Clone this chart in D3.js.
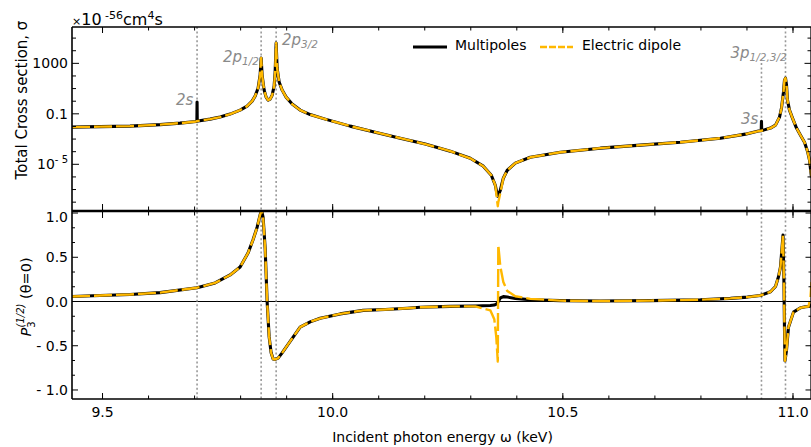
<!DOCTYPE html>
<html><head><meta charset="utf-8">
<script src="https://cdn.jsdelivr.net/npm/d3@7"></script>
<style>body{margin:0;background:#fff} text{font-family:"DejaVu Sans",sans-serif}</style>
</head><body><svg id="c" width="811" height="447"></svg>
<script>
// ---------- data ----------
const energyTop = [9.4337, 9.4946, 9.5598, 9.6250, 9.6685, 9.7033, 9.7050, 9.7054, 9.7058, 9.7076,
  9.7337, 9.7554, 9.7772, 9.7989, 9.8141, 9.8250, 9.8315, 9.8380, 9.8424, 9.8446,
  9.8467, 9.8511, 9.8554, 9.8598, 9.8641, 9.8685, 9.8728, 9.8750, 9.8772, 9.8793,
  9.8837, 9.8902, 9.8989, 9.9120, 9.9293, 9.9511, 9.9837, 10.038, 10.0924, 10.1467,
  10.201, 10.2554, 10.2989, 10.3272, 10.3446, 10.3533, 10.3576, 10.3587, 10.3598, 10.3641,
  10.3707, 10.3793, 10.3967, 10.4293, 10.4946, 10.5815, 10.6685, 10.7554, 10.8424, 10.8967,
  10.925, 10.9310, 10.9315, 10.9320, 10.9359, 10.9511, 10.962, 10.9707, 10.9750, 10.9793,
  10.9815, 10.9837, 10.9859, 10.9880, 10.9924, 10.9989, 11.0076, 11.0163, 11.025, 11.0315, 11.0359, 11.0402];
const sigmaMultipoles = [8.8e-3, 9.6e-3, 1.06e-2, 1.39e-2, 1.83e-2, 2.49e-2, 2.57e-2, 0.85, 2.63e-2, 2.74e-2,
  3.8e-2, 5.5e-2, 9.5e-2, 0.197, 0.408, 1.02, 2.54, 11, 117, 2630,
  117, 7.6, 2.11, 1.22, 1.47, 3.0, 15.8, 204, 40700, 427,
  33, 7.6, 2.11, 0.59, 0.197, 8.7e-2, 3.8e-2, 1.06e-2, 3.5e-3, 1.17e-3,
  4.0e-4, 1.1e-4, 3.0e-5, 7.1e-6, 1.35e-6, 2.2e-7, 3.5e-8, 2.95e-8, 3.5e-8, 8.7e-8,
  7.9e-7, 3.4e-6, 1.23e-5, 3.6e-5, 9.1e-5, 1.9e-4, 3.3e-4, 5.6e-4, 1.17e-3, 2.45e-3,
  4.3e-3, 4.6e-3, 2.6e-2, 4.7e-3, 5.1e-3, 7.4e-3, 1.26e-2, 5.5e-2, 0.28, 5.2,
  47, 68, 19, 1.23, 0.195, 4.6e-2, 7.4e-3, 2.0e-3, 5.6e-4, 1.1e-4, 2.1e-5, 9.5e-7];
const sigmaDipole = [8.8e-3, 9.6e-3, 1.06e-2, 1.39e-2, 1.83e-2, 2.49e-2, 2.57e-2, 2.6e-2, 2.63e-2, 2.74e-2,
  3.8e-2, 5.5e-2, 9.5e-2, 0.197, 0.408, 1.02, 2.54, 11, 117, 2630,
  117, 7.6, 2.11, 1.22, 1.47, 3.0, 15.8, 204, 40700, 427,
  33, 7.6, 2.11, 0.59, 0.197, 8.7e-2, 3.8e-2, 1.06e-2, 3.5e-3, 1.17e-3,
  4.0e-4, 1.1e-4, 3.0e-5, 7.1e-6, 1.35e-6, 2.2e-7, 1.0e-8, 4.8e-9, 1.0e-8, 5.0e-8,
  7.9e-7, 3.4e-6, 1.23e-5, 3.6e-5, 9.1e-5, 1.9e-4, 3.3e-4, 5.6e-4, 1.17e-3, 2.45e-3,
  4.3e-3, 4.6e-3, 4.6e-3, 4.7e-3, 5.1e-3, 7.4e-3, 1.26e-2, 5.5e-2, 0.28, 5.2,
  47, 68, 19, 1.23, 0.195, 4.6e-2, 7.4e-3, 2.0e-3, 5.6e-4, 1.1e-4, 2.1e-5, 9.5e-7];

const energyPol = [9.4337, 9.4946, 9.5598, 9.6250, 9.7054, 9.7446, 9.7772, 9.7989, 9.8163, 9.8272,
  9.8359, 9.8424, 9.8457, 9.8489, 9.8533, 9.8576, 9.8620, 9.8663, 9.8707, 9.8750,
  9.8815, 9.8902, 9.9076, 9.9293, 9.9511, 9.9728, 10.0163, 10.0663, 10.1141, 10.1620,
  10.1902, 10.2554, 10.3098, 10.3424, 10.3511, 10.3554, 10.3587, 10.3598, 10.3641, 10.3707,
  10.3793, 10.3967, 10.4293, 10.4946, 10.5815, 10.6902, 10.7989, 10.8641, 10.9011, 10.9293,
  10.9511, 10.9620, 10.9685, 10.9728, 10.9761, 10.9783, 10.9804, 10.9815, 10.9826, 10.9859,
  10.9902, 11.0011, 11.0163, 11.0272, 11.0337, 11.0380, 11.0402];
const polMultipoles = [0.057, 0.068, 0.08, 0.10, 0.156, 0.21, 0.30, 0.39, 0.55, 0.70,
  0.84, 0.98, 1.03, 0.95, 0.6, 0.0, -0.4, -0.58, -0.65, -0.655,
  -0.64, -0.58, -0.45, -0.29, -0.23, -0.19, -0.14, -0.10, -0.09, -0.076,
  -0.065, -0.055, -0.05, -0.045, -0.04, -0.03, -0.01, 0.0, 0.04, 0.055,
  0.05, 0.035, 0.02, 0.01, 0.005, 0.01, 0.02, 0.035, 0.05, 0.068,
  0.11, 0.17, 0.28, 0.39, 0.6, 0.75, 0.2, -0.3, -0.67, -0.55,
  -0.29, -0.12, -0.07, -0.06, -0.057, -0.05, -0.03];
const polDipole = [0.057, 0.068, 0.08, 0.10, 0.156, 0.21, 0.30, 0.39, 0.55, 0.70,
  0.84, 0.98, 1.03, 0.95, 0.6, 0.0, -0.4, -0.58, -0.65, -0.655,
  -0.64, -0.58, -0.45, -0.29, -0.23, -0.19, -0.14, -0.10, -0.09, -0.076,
  -0.065, -0.055, -0.055, -0.1, -0.2, -0.4, -0.68, 0.64, 0.40, 0.22,
  0.12, 0.06, 0.03, 0.01, 0.005, 0.01, 0.02, 0.035, 0.05, 0.068,
  0.11, 0.17, 0.28, 0.39, 0.6, 0.75, 0.2, -0.3, -0.67, -0.55,
  -0.29, -0.12, -0.07, -0.06, -0.057, 0.05, 0.22];

const xMajorTicks = [9.5, 10.0, 10.5, 11.0];
const xTickLabels = ["9.5", "10.0", "10.5", "11.0"];
const xMinorTicks = [9.5, 9.6, 9.7, 9.8, 9.9, 10.0, 10.1, 10.2, 10.3, 10.4, 10.5, 10.6, 10.7, 10.8, 10.9, 11.0];
const sigmaDecades = [1e5, 1e4, 1e3, 1e2, 1e1, 1, 1e-1, 1e-2, 1e-3, 1e-4, 1e-5, 1e-6, 1e-7, 1e-8];
const sigmaLabelTicks = [1e3, 1e-1, 1e-5];
const polMajorTicks = [1.0, 0.5, 0.0, -0.5, -1.0];
const polTickLabels = ["1.0", "0.5", "0.0", "- 0.5", "- 1.0"];
const polMinorTicks = [0.8333, 0.6667, 0.3333, 0.1667, -0.1667, -0.3333, -0.6667, -0.8333];
const resonanceEnergies = [9.7054, 9.8446, 9.8772, 10.9315, 10.9837];
const seriesNames = ["Multipoles", "Electric dipole"];

// ---------- layout ----------
const svg = d3.select("#c");
const L = 72, R = 811.5, T1 = 27, B1 = 211, T2 = 211, B2 = 399;
const orange = "#FFB800";
const x = d3.scaleLinear().domain([9.4337, 11.0402]).range([L, R]);
const yS = d3.scaleLog().domain([Math.pow(10, -8.7), Math.pow(10, 5.88)]).range([B1, T1]);
const yP = d3.scaleLinear().domain([-1.102, 1.023]).range([B2, T2]);

const defs = svg.append("defs");
defs.append("clipPath").attr("id", "cp1").append("rect").attr("x", L).attr("y", T1).attr("width", R - L).attr("height", B1 - T1);
defs.append("clipPath").attr("id", "cp2").append("rect").attr("x", L).attr("y", T2).attr("width", R - L).attr("height", B2 - T2);

// zero line
svg.append("line").attr("x1", L).attr("x2", R).attr("y1", yP(0)).attr("y2", yP(0)).attr("stroke", "#000").attr("stroke-width", 1);

// resonance dotted lines
resonanceEnergies.forEach((e, i) => {
  svg.append("line").attr("x1", x(e)).attr("x2", x(e)).attr("y1", i === 3 ? 63 : T1).attr("y2", B2)
    .attr("stroke", "#999").attr("stroke-width", 1.6).attr("stroke-dasharray", "2,2.4");
});

// curves
const topM = energyTop.map((e, i) => [e, sigmaMultipoles[i]]);
const topD = energyTop.map((e, i) => [e, sigmaDipole[i]]);
const botM = energyPol.map((e, i) => [e, polMultipoles[i]]);
const botD = energyPol.map((e, i) => [e, polDipole[i]]);
const lineTop = d3.line().x(d => x(d[0])).y(d => yS(d[1]));
const lineBot = d3.line().x(d => x(d[0])).y(d => yP(d[1]));
const g1 = svg.append("g").attr("clip-path", "url(#cp1)");
const g2 = svg.append("g").attr("clip-path", "url(#cp2)");
function drawPair(g, dm, dd, gen) {
  g.append("path").attr("d", gen(dm)).attr("fill", "none").attr("stroke", "#000").attr("stroke-width", 3.1).attr("stroke-linejoin", "round");
  g.append("path").attr("d", gen(dd)).attr("fill", "none").attr("stroke", orange).attr("stroke-width", 2.4)
    .attr("stroke-dasharray", "18,4").attr("stroke-linejoin", "round");
}
drawPair(g1, topM, topD, lineTop);
drawPair(g2, botM, botD, lineBot);

// spines
const sp = (x1, y1, x2, y2, w) => svg.append("line").attr("x1", x1).attr("y1", y1).attr("x2", x2).attr("y2", y2).attr("stroke", "#000").attr("stroke-width", w);
sp(L, T1, R, T1, 1.3);
sp(L, B2, R, B2, 1.3);
sp(L, T1, L, B2, 1.6);
sp(R - 0.5, T1, R - 0.5, B2, 1.3);
sp(L, B1, R, B1, 2.6);

// x ticks
function xt(v, len) {
  const px = x(v);
  sp(px, T1, px, T1 + len, 1);
  sp(px, B1, px, B1 - len - 1, 1);
  sp(px, T2, px, T2 + len + 1, 1);
  sp(px, B2, px, B2 - len, 1);
}
xMinorTicks.forEach(v => xt(v, 3.5));
xMajorTicks.forEach(v => xt(v, 6));
xMajorTicks.forEach((v, i) => svg.append("text").attr("x", x(v)).attr("y", 416.5).attr("text-anchor", "middle").attr("font-size", 14).text(xTickLabels[i]));

// y ticks top
sigmaDecades.forEach(v => {
  const major = sigmaLabelTicks.includes(v);
  const len = major ? 7 : 4;
  sp(L, yS(v), L + len, yS(v), 1);
  sp(R, yS(v), R - len, yS(v), 1);
});
const lab1000 = svg.append("text").attr("x", 68).attr("y", yS(1e3) + 5).attr("text-anchor", "end").attr("font-size", 14).text("1000");
svg.append("text").attr("x", 68).attr("y", yS(1e-1) + 5).attr("text-anchor", "end").attr("font-size", 14).text("0.1");
const t5 = svg.append("text").attr("x", 68).attr("y", yS(1e-5) + 5).attr("text-anchor", "end").attr("font-size", 14);
t5.append("tspan").text("10");
t5.append("tspan").attr("font-size", 10).attr("dy", -6).text("- 5");

// y ticks bottom
polMajorTicks.forEach((v, i) => {
  sp(L, yP(v), L + 6, yP(v), 1);
  sp(R, yP(v), R - 6, yP(v), 1);
  const yy = Math.max(yP(v), 217);
  svg.append("text").attr("x", 68).attr("y", yy + 5).attr("text-anchor", "end").attr("font-size", 14).text(polTickLabels[i]);
});
polMinorTicks.forEach(v => {
  sp(L, yP(v), L + 3, yP(v), 1);
  sp(R, yP(v), R - 3, yP(v), 1);
});

// unit label
const u = svg.append("text").attr("x", 72).attr("y", 24.5).attr("font-size", 16);
u.append("tspan").attr("font-size", 11).text("×");
u.append("tspan").text("10");
u.append("tspan").attr("font-size", 11).attr("dy", -6).text(" -56");
u.append("tspan").attr("dy", 6).text("cm");
u.append("tspan").attr("font-size", 11).attr("dy", -6).text("4");
u.append("tspan").attr("dy", 6).text("s");

// axis titles
svg.append("text").attr("transform", "translate(27,100) rotate(-90)").attr("text-anchor", "middle").attr("font-size", 15).text("Total Cross section, σ");
const pl = svg.append("text").attr("transform", "translate(31,297) rotate(-90)").attr("text-anchor", "middle").attr("font-size", 14.5);
pl.append("tspan").attr("font-style", "italic").text("P");
pl.append("tspan").attr("font-size", 10).attr("dy", 4).text("3");
pl.append("tspan").attr("font-size", 10).attr("font-style", "italic").attr("dx", -6).attr("dy", -11).text("(1/2)");
pl.append("tspan").attr("dy", 7).text("  (θ=0)");
svg.append("text").attr("x", 442.5).attr("y", 442).attr("text-anchor", "middle").attr("font-size", 14).text("Incident photon energy ω (keV)");

// resonance labels
function resLabel(xp, yp, main, sub) {
  const t = svg.append("text").attr("x", xp).attr("y", yp).attr("font-size", 15).attr("font-style", "italic").attr("fill", "#8a8a8a");
  t.append("tspan").text(main);
  if (sub) t.append("tspan").attr("font-size", 10.5).attr("dy", 3).text(sub);
}
resLabel(176, 105, "2s");
resLabel(223, 62, "2p", "1/2");
resLabel(282, 45, "2p", "3/2");
resLabel(730.5, 57.5, "3p", "1/2,3/2");
resLabel(741, 124, "3s");

// legend
svg.append("line").attr("x1", 413).attr("x2", 447).attr("y1", 47).attr("y2", 47).attr("stroke", "#000").attr("stroke-width", 3);
svg.append("text").attr("x", 455).attr("y", 50).attr("font-size", 14).text(seriesNames[0]);
svg.append("line").attr("x1", 540).attr("x2", 573).attr("y1", 47).attr("y2", 47).attr("stroke", orange).attr("stroke-width", 2.4).attr("stroke-dasharray", "7,2");
svg.append("text").attr("x", 582).attr("y", 50).attr("font-size", 14).text(seriesNames[1]);
</script></body></html>
